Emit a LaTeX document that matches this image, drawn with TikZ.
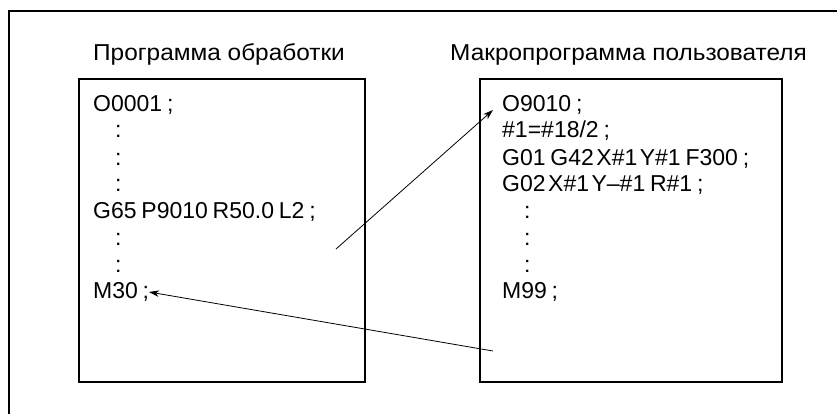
\documentclass[tikz,border=0pt]{standalone}
\usepackage{fontspec}
\setmainfont{Liberation Sans}[WordSpace=0.75]
\newfontfamily\titlefont{Liberation Sans}[FakeStretch=1.06]
\usetikzlibrary{arrows.meta}
\newcommand{\nsp}{\hspace{2.5pt}}
\tikzset{
  frame/.style={line width=1.6pt},
  prog/.style={draw, line width=2.3pt},
  txt/.style={anchor=base west, inner sep=0pt, font=\fontsize{23}{27}\selectfont},
  ttl/.style={anchor=base west, inner sep=0pt, font=\titlefont\fontsize{23}{27}\selectfont},
  link/.style={line width=0.8pt, -{Stealth[length=10pt,width=6.5pt,inset=3pt]}},
}
\begin{document}
\begin{tikzpicture}[x=1pt,y=-1pt]
\useasboundingbox (0,0) rectangle (837,414);
% outer frame (open at right and bottom)
\coordinate (fr) at (837,11);
\coordinate (fc) at (9,11);
\coordinate (fb) at (9,414);
\draw[frame] (fr) -- (fc) -- (fb);
% boxes
\node[prog, minimum width=286pt, minimum height=303pt, anchor=north west, inner sep=0pt] (main) at (78,78) {};
\node[prog, minimum width=302pt, minimum height=303pt, anchor=north west, inner sep=0pt] (macro) at (479,78) {};
% titles
\node[ttl] (t1) at (93,61) {Программа обработки};
\node[ttl] (t2) at (450,61) {Макропрограмма пользователя};
% main program
\node[txt] (a1) at (93,112) {O0001 ;};
\node[txt] (a2) at (115,138) {:};
\node[txt] (a3) at (115,165) {:};
\node[txt] (a4) at (115,191) {:};
\node[txt] (a5) at (93,218) {G65 P9010 R50.0 L2 ;};
\node[txt] (a6) at (115,245) {:};
\node[txt] (a7) at (115,272) {:};
\node[txt] (a8) at (93,298) {M30 ;};
% macro program
\node[txt] (b1) at (502,112) {O9010 ;};
\node[txt] (b2) at (502,138) {\#1=\#18/2 ;};
\node[txt] (b3) at (502,165) {G01 G42\nsp X\#1\nsp Y\#1 F300 ;};
\node[txt] (b4) at (502,192) {G02\nsp X\#1\nsp Y–\#1 R\#1 ;};
\node[txt] (b5) at (524,218) {:};
\node[txt] (b6) at (524,245) {:};
\node[txt] (b7) at (524,272) {:};
\node[txt] (b8) at (502,298) {M99 ;};
% connectors
\coordinate (c1) at (336,249);
\coordinate (c2) at (493,110);
\coordinate (c3) at (493,351);
\coordinate (c4) at (149,292);
\draw[link] (c1) -- (c2);
\draw[link] (c3) -- (c4);
\end{tikzpicture}
\end{document}
